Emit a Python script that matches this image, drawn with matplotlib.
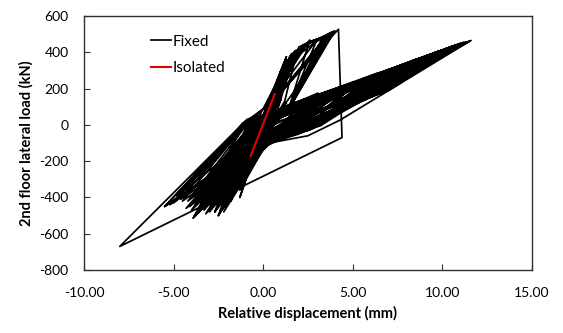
import matplotlib.pyplot as plt
from matplotlib.ticker import FormatStrFormatter

plt.rcParams['font.family'] = ['Lato', 'DejaVu Sans']
plt.rcParams['axes.unicode_minus'] = False

# Fixed-base frame: relative displacement (mm) vs 2nd floor lateral load (kN)
fixed_x = [
    0.0, 0.9, -0.8, 1.3, -1.3, 0.4, 2.6, 1.0, -0.3, -2.0,
    -0.6, 0.8, 3.5, 1.2, -0.2, -2.9, -0.9, 0.7, 4.5, 1.8,
    -0.1, -3.7, -1.1, 0.6, 5.4, 2.4, -0.3, -1.4, 1.3, -1.0,
    -0.4, 0.8, 6.5, 3.2, 0.0, -2.5, -1.2, 1.6, -0.9, -0.5,
    0.8, 7.5, 4.3, 2.6, -0.2, -3.3, -1.0, 0.8, 3.06, 1.5,
    -0.3, -1.3, 0.6, 2.6, 1.5, 0.4, -2.2, -0.9, 0.8, 8.5,
    5.5, 3.0, 0.0, -3.9, -1.2, 0.6, 3.5, 1.6, 0.5, -1.8,
    0.7, 3.0, 1.5, 0.9, 9.5, 6.5, 4.3, 0.2, -5.5, -1.1,
    0.6, 3.8, 1.6, 0.3, -2.7, -0.9, 0.8, 6.0, 3.5, -0.2,
    -4.5, -1.0, 0.7, 4.2, 4.4, -8.0, -1.1, 0.9, 11.6, 4.3,
    3.2, -0.1, -3.6, -1.0, 0.9, 11.5, 4.3, 2.5, -0.2, -5.5,
    -1.0, 0.9, 10.3, 6.5, 3.5, 0.1, -3.9, -0.8, 0.8, 7.2,
    4.0, 0.0, -2.5, -0.7, 1.9, 1.2, -0.3, -4.2, -1.0, 0.7,
    8.8, 5.5, 2.8, 0.2, -3.0, -0.9, 0.6, 5.8, 3.0, -0.1,
    -1.6, 0.8, 2.2, 3.3, 1.5, 0.6, -4.8, -0.9, 0.9, 9.8,
    6.0, 4.0, 0.3, -3.6, -1.0, 0.7, 6.8, 3.3, -0.2, -2.0,
    -0.5, 0.8, 8.2, 5.0, 2.7, 0.1, -3.3, -0.8, 0.9, 11.2,
    7.0, 4.5, 0.4, -2.7, -0.7, 1.4, -0.9, -0.4, 0.8, 6.3,
    3.8, -0.3, -4.4, -1.0, 0.8, 9.2, 6.0, 3.4, 0.2, -1.3,
    0.9, 1.7, 2.8, 3.9, 1.6, 0.5, -5.0, -1.1, 0.9, 10.8,
    6.8, 4.2, 2.0, -0.2, -3.1, -0.7, 0.6, 7.8, 4.4, 0.0,
    -2.3, -0.6, 1.1, -0.8, -0.3, 0.7, 5.0, 2.2, -0.3, -4.0,
    -0.9, 0.8, 8.5, 5.2, 3.8, 0.2, -1.9, 0.7, 2.4, 3.6,
    1.5, 0.3, -3.5, -0.8, 0.9, 10.0, 6.3, 4.6, 0.0, -2.8,
    -0.6, 0.7, 7.0, 3.6, -0.1, -1.5, 1.5, -1.0, -0.4, 0.8,
    6.6, 4.0, 2.6, -0.2, -4.6, -1.0, 0.9, 11.0, 6.6, 4.3,
    0.3, -3.2, -0.7, 0.6, 9.0, 5.8, 4.0, 0.0,
    -0.6, 1.2, -1.1, -0.2, 2.0, 6.0, 4.8, 1.8, -0.4, -2.1,
    -0.6, 1.5, 7.4, 5.0, 2.0, -0.5, -1.2, 1.8, 0.9, -0.8,
    -3.4, -0.9, 1.2, 4.0, 2.2, -0.2, -1.0, 1.0, -0.6, 0.2,
    2.5, 9.6, 6.2, 3.2, 0.5, -2.6, -0.5, 1.0, 5.5, 3.0,
    0.6, -1.7, 0.9, 2.5, 3.4, 1.5, 1.0, 8.0, 5.3, 2.4,
    -0.6, -4.1, -0.8, 0.7, 3.0, 1.5, -0.4, -1.1, 1.6, 1.0,
    -0.7, -2.4, -0.3, 1.3, 10.6, 7.0, 4.5, 1.2, -0.5, -3.8,
    -0.7, 0.9, 6.2, 4.2, 1.8, -0.3, -0.9, 1.3, 0.5, -1.6,
    0.8, 2.0, 3.2, 4.0, 1.6, 0.8, -0.9, -2.0, -0.2, 1.5,
    8.6, 6.4, 3.6, 0.4, -1.2, 0.3, 1.1, -0.5, 0.0,
    1.5, 9.0, 3.5, 0.4, -2.9, -0.8, 1.8, 7.0, 3.8, 1.0,
    -3.6, -1.0, 1.2, 11.3, 6.0, 2.5, -0.4, -5.2, -1.0, 2.0,
    5.0, 2.8, 0.2, -3.0, -0.9, 1.6, 8.4, 4.6, 1.4, -4.3,
    -0.8, 2.4, 6.0, 3.2, 0.6, -2.2, -0.6, 0.9, 1.5, 0.3,
    -1.8, 0.6, 1.9, 2.9, 3.7, 1.7, 0.5, -3.0, -0.9, 1.3,
    10.2, 5.6, 2.0, -0.3, -4.0, -1.2, 1.0, 7.7, 4.2, 1.2,
    -2.6, -0.7, 1.0, 1.8, 0.8, -1.4, -0.2, 2.2, 9.4, 5.0,
    2.3, 0.0,
    1.3, 0.2, 1.0, -0.6, 1.2, 6.4, 2.2, 0.6, 1.2, 0.0,
    1.4, 4.8, 1.6, 0.0,
]
fixed_y = [
    0, 75, -120, 120, -200, 40, 145, -30, -110, -300,
    -30, 60, 180, -20, -115, -270, -50, 50, 215, 10,
    -105, -360, -70, 40, 245, -10, -120, -290, 376, -210,
    -30, 70, 285, 30, -90, -500, -140, 394, -190, -60,
    75, 320, 100, -28, -110, -470, -60, 80, 175, 20,
    -100, -400, 160, 468, 112, 10, -420, -40, 65, 360,
    140, 10, -80, -513, -20, 140, 486, 115, 0, -350,
    170, 470, 110, 55, 392, 174, 100, -70, -450, 10,
    130, 505, 118, -20, -480, 0, 70, 268, 50, -120,
    -420, 0, 150, 527, -70, -670, 10, 80, 465, 65,
    -5, -100, -400, -40, 70, 460, 27, -60, -110, -450,
    20, 75, 424, 174, 40, -120, -513, -60, 60, 313,
    70, -110, -500, -120, 410, 130, -120, -420, -10, 50,
    370, 140, -20, -100, -480, -80, 40, 263, 0, -120,
    -380, 180, 440, 480, 112, 30, -390, 30, 80, 406,
    160, 70, -90, -460, -50, 50, 299, 20, -125, -440,
    -70, 60, 349, 120, -20, -110, -430, -20, 80, 456,
    190, 100, -80, -480, -100, 350, -210, -70, 65, 281,
    60, -130, -380, 0, 75, 385, 165, 30, -100, -360,
    200, 400, 460, 515, 115, -10, -430, 10, 80, 442,
    185, 80, -50, -115, -400, -60, 45, 335, 90, -100,
    -470, -110, 290, -200, -60, 55, 234, -40, -120, -470,
    -40, 70, 360, 125, 40, -90, -400, 170, 450, 495,
    112, -20, -420, -10, 80, 413, 170, 95, -105, -440,
    -80, 50, 306, 30, -110, -320, 380, -230, -50, 70,
    292, 75, -25, -120, -410, 10, 80, 449, 178, 95,
    -90, -490, -90, 45, 377, 150, 60, -100,
    -140, 330, -230, -60, 60, 260, 120, -20, -130, -380,
    -50, 40, 318, 130, 0, -140, -300, 400, 150, -170,
    -380, -30, 30, 160, 10, -100, -250, 300, -160, -50,
    80, 400, 180, 40, -80, -430, -40, 50, 245, 60,
    -60, -300, 230, 455, 485, 112, 40, 340, 140, 20,
    -150, -450, -30, 30, 120, -10, -120, -280, 390, 170,
    -190, -360, -20, 60, 436, 200, 110, -40, -150, -440,
    -10, 60, 275, 100, -10, -110, -220, 360, 60, -340,
    190, 430, 475, 518, 115, 20, -160, -330, -30, 70,
    363, 190, 70, -60, -200, 80, 300, -120, 0,
    95, 372, 90, -40, -420, -20, 100, 300, 110, 0,
    -480, -30, 80, 455, 200, 40, -100, -440, 0, 110,
    230, 90, -60, -440, -60, 80, 355, 140, 10, -460,
    -60, 120, 262, 100, -40, -480, -150, 200, 360, 40,
    -420, 120, 380, 455, 500, 180, 20, -370, -20, 90,
    420, 160, 30, -80, -400, -60, 70, 330, 130, -20,
    -400, -130, 260, 410, 80, -330, -20, 100, 390, 150,
    50, -60,
    105, 20, 140, -90, 100, 286, 80, 60, 220, -30,
    110, 226, 60, -100,
]

# Base-isolated frame
isolated_x = [-0.7, 0.65]
isolated_y = [-172, 170]

fig = plt.figure(figsize=(5.63, 3.33), dpi=100)
ax = fig.add_axes([0.149, 0.189, 0.796, 0.763])

ax.plot(fixed_x, fixed_y, color='black', linewidth=1.25, label='Fixed')
ax.plot(isolated_x, isolated_y, color='#e00000', linewidth=1.5, label='Isolated')

ax.set_xlim(-10, 15)
ax.set_ylim(-800, 600)
ax.set_xticks([-10, -5, 0, 5, 10, 15])
ax.set_yticks(range(-800, 601, 200))
ax.xaxis.set_major_formatter(FormatStrFormatter('%.2f'))
ax.tick_params(direction='in', length=4, labelsize=10, color='#303030')
ax.tick_params(axis='x', pad=12)
ax.tick_params(axis='y', pad=11)
for sp in ax.spines.values():
    sp.set_color('#303030')
    sp.set_linewidth(1.0)

ax.set_xlabel('Relative displacement (mm)', fontsize=10.5, fontweight='bold', labelpad=5)
ax.set_ylabel('2nd floor lateral load (kN)', fontsize=10.5, fontweight='bold', labelpad=4)

ax.legend(loc='upper left', bbox_to_anchor=(0.12, 0.98), frameon=False,
          fontsize=11, handlelength=1.3, handletextpad=0.1, labelspacing=0.8)

fig.savefig('out.png', dpi=100)
